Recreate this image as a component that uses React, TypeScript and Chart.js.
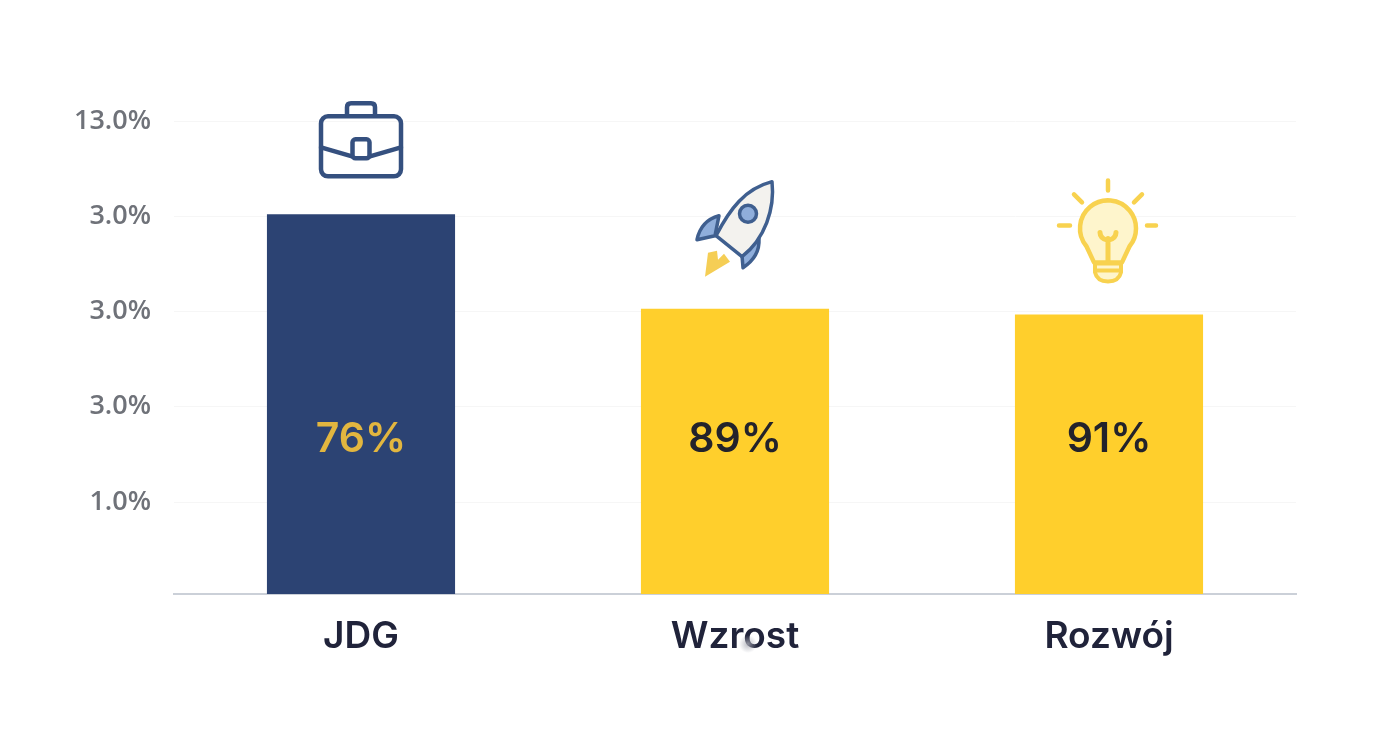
import React, { useEffect, useRef } from "react";
import { Chart, registerables } from "chart.js";

Chart.register(...registerables);

const categories = ["JDG", "Wzrost", "Rozwój"];
const barHeights = [4.02, 3.03, 2.97];
const barLabels = ["76%", "89%", "91%"];
const barColors = ["#2C4373", "#FFCF2C", "#FFCF2C"];
const labelColors = ["#E2B63F", "#23232B", "#23232B"];
const tickValues = [1, 2, 3, 4, 5];
const tickLabels = ["1.0%", "3.0%", "3.0%", "3.0%", "13.0%"];

const NAVY = "#35507F";
const GOLD = "#F8D24F";

function briefcase(c: CanvasRenderingContext2D) {
  c.strokeStyle = NAVY;
  c.lineWidth = 4.5;
  c.lineJoin = "round";
  c.lineCap = "round";
  c.beginPath();
  c.roundRect(-40, -98, 80, 60, 7);
  c.stroke();
  c.beginPath();
  c.moveTo(-14, -99);
  c.lineTo(-14, -107);
  c.quadraticCurveTo(-14, -111, -10, -111);
  c.lineTo(10, -111);
  c.quadraticCurveTo(14, -111, 14, -107);
  c.lineTo(14, -99);
  c.stroke();
  c.beginPath();
  c.moveTo(-40, -67);
  c.lineTo(-9, -58);
  c.moveTo(9, -58);
  c.lineTo(40, -67);
  c.stroke();
  c.beginPath();
  c.roundRect(-8.5, -75, 17, 19, 3);
  c.stroke();
}

function rocket(c: CanvasRenderingContext2D) {
  c.lineJoin = "round";
  c.lineCap = "round";
  // flame
  c.fillStyle = "#F5CE55";
  c.beginPath();
  c.moveTo(-30, -32);
  c.lineTo(-27, -56);
  c.lineTo(-18, -58);
  c.lineTo(-17, -49);
  c.lineTo(-11, -55);
  c.lineTo(-5, -47);
  c.closePath();
  c.fill();
  // fins
  c.strokeStyle = "#3F5F8F";
  c.lineWidth = 3.5;
  c.fillStyle = "#8FAEDB";
  c.beginPath();
  c.moveTo(-16, -93);
  c.quadraticCurveTo(-34, -88, -38, -69);
  c.lineTo(-20, -73);
  c.closePath();
  c.fill();
  c.stroke();
  c.beginPath();
  c.moveTo(24, -70);
  c.quadraticCurveTo(25, -52, 8, -41);
  c.lineTo(7, -53);
  c.closePath();
  c.fill();
  c.stroke();
  // body
  c.fillStyle = "#F3F2EE";
  c.beginPath();
  c.moveTo(37, -127);
  c.bezierCurveTo(10, -120, -5, -100, -19, -73);
  c.lineTo(7, -52);
  c.bezierCurveTo(30, -70, 40, -100, 37, -127);
  c.closePath();
  c.fill();
  c.stroke();
  // window
  c.fillStyle = "#8FAEDB";
  c.beginPath();
  c.arc(13, -95, 8.5, 0, Math.PI * 2);
  c.fill();
  c.stroke();
}

function bulb(c: CanvasRenderingContext2D) {
  c.strokeStyle = GOLD;
  c.lineCap = "round";
  c.lineJoin = "round";
  c.lineWidth = 4.5;
  const rays: number[][] = [
    [-1, -134, -1, -124],
    [-35, -120, -27, -112],
    [33, -120, 25, -112],
    [-50, -89, -39, -89],
    [38, -89, 47, -89],
  ];
  c.beginPath();
  rays.forEach(([a, b, d, e]) => {
    c.moveTo(a, b);
    c.lineTo(d, e);
  });
  c.stroke();
  c.fillStyle = "#FEF5CC";
  c.lineWidth = 4.5;
  c.beginPath();
  c.arc(-1, -86, 28, Math.PI * 0.78, Math.PI * 0.22);
  c.lineTo(13, -52);
  c.lineTo(-15, -52);
  c.closePath();
  c.fill();
  c.stroke();
  // filament
  c.lineWidth = 5;
  c.beginPath();
  c.moveTo(-1, -52);
  c.lineTo(-1, -76);
  c.moveTo(-1, -74);
  c.quadraticCurveTo(-9, -76, -9, -82);
  c.moveTo(-1, -74);
  c.quadraticCurveTo(7, -76, 7, -82);
  c.stroke();
  // base
  c.fillStyle = "#FEF5CC";
  c.lineWidth = 4;
  c.beginPath();
  c.moveTo(-14, -51);
  c.lineTo(-14, -42);
  c.quadraticCurveTo(-12, -33, -1, -33);
  c.quadraticCurveTo(10, -33, 12, -42);
  c.lineTo(12, -51);
  c.closePath();
  c.fill();
  c.stroke();
  c.beginPath();
  c.moveTo(-14, -44);
  c.lineTo(12, -44);
  c.stroke();
}

const icons = [briefcase, rocket, bulb];

const decorations = {
  id: "decorations",
  afterDatasetsDraw(chart: any) {
    const c: CanvasRenderingContext2D = chart.ctx;
    const meta = chart.getDatasetMeta(0);
    meta.data.forEach((bar: any, i: number) => {
      c.save();
      c.translate(bar.x, bar.y);
      icons[i](c);
      c.restore();
      c.save();
      c.font = '600 41px "Inter", sans-serif';
      c.fillStyle = labelColors[i];
      c.textAlign = "center";
      c.textBaseline = "middle";
      c.fillText(barLabels[i], bar.x, chart.scales.y.getPixelForValue(1.65));
      c.restore();
    });
  },
  afterDraw(chart: any) {
    // the small grey smudge on the second category label
    const c: CanvasRenderingContext2D = chart.ctx;
    const x = chart.scales.x.getPixelForValue(1) + 13;
    const y = chart.chartArea.bottom + 50;
    const g = c.createRadialGradient(x, y, 0, x, y, 9);
    g.addColorStop(0, "rgba(170,172,182,0.8)");
    g.addColorStop(1, "rgba(170,172,182,0)");
    c.save();
    c.fillStyle = g;
    c.fillRect(x - 9, y - 9, 18, 18);
    c.restore();
  },
};

export default function App() {
  const ref = useRef<HTMLCanvasElement>(null);
  useEffect(() => {
    document.body.style.margin = "0";
    document.body.style.background = "#fff";
    const chart = new Chart(ref.current!, {
      type: "bar",
      data: {
        labels: categories,
        datasets: [
          {
            data: barHeights,
            backgroundColor: barColors,
            borderWidth: 0,
            barPercentage: 0.503,
            categoryPercentage: 1,
          },
        ],
      },
      options: {
        responsive: false,
        animation: false,
        layout: { padding: { top: 121, right: 96, bottom: 0, left: 0 } },
        plugins: { legend: { display: false }, tooltip: { enabled: false } },
        scales: {
          x: {
            grid: { display: false, drawTicks: false },
            border: { display: true, color: "#CBD0D8", width: 2 },
            ticks: {
              color: "#20233A",
              padding: 21,
              maxRotation: 0,
              font: { family: "Inter", size: 37, weight: "600" },
            },
            afterFit(s: any) {
              s.height = 158;
            },
          },
          y: {
            min: 0.035,
            max: 5,
            afterBuildTicks(s: any) {
              s.ticks = tickValues.map((value) => ({ value }));
            },
            grid: { color: "#F6F6F6", lineWidth: 1, drawTicks: false },
            border: { display: false },
            ticks: {
              color: "#6F7279",
              padding: 23,
              font: { family: "Open Sans", size: 27, weight: "600" },
              callback: (v: any) => tickLabels[tickValues.indexOf(Number(v))] ?? "",
            },
            afterFit(s: any) {
              s.width = 174;
            },
          },
        },
      } as any,
      plugins: [decorations],
    });
    return () => chart.destroy();
  }, []);
  return <canvas ref={ref} width={1392} height={752} style={{ display: "block" }} />;
}
